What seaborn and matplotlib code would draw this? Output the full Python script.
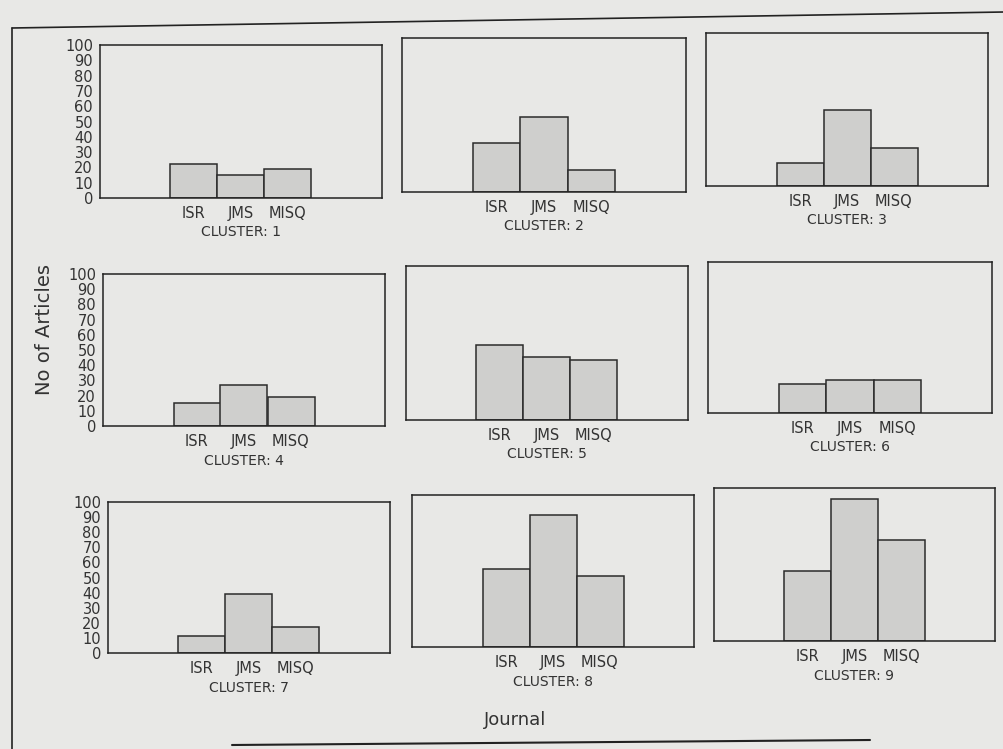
import matplotlib
matplotlib.use("Agg")
import matplotlib.pyplot as plt
import seaborn as sns
import pandas as pd
from matplotlib.lines import Line2D

journals = ["ISR", "JMS", "MISQ"]
slots = ["_left", "ISR", "JMS", "MISQ", "_right"]
slot_labels = ["", "ISR", "JMS", "MISQ", ""]
clusters = [1, 2, 3, 4, 5, 6, 7, 8, 9]
isr = [22, 32, 15, 15, 49, 19, 11, 51, 46]
jms = [15, 49, 50, 27, 41, 22, 39, 87, 93]
misq = [19, 14, 25, 19, 39, 22, 17, 47, 66]
y_ticks = [0, 10, 20, 30, 40, 50, 60, 70, 80, 90, 100]

rows = []
for i, c in enumerate(clusters):
    for j, v in zip(journals, (isr[i], jms[i], misq[i])):
        rows.append({"cluster": c, "journal": j, "articles": v})
df = pd.DataFrame(rows)

sns.set_theme(style="white")
plt.rcParams["font.family"] = ["DejaVu Sans"]

W, H = 1004, 749
bg = "#e8e8e6"
fig = plt.figure(figsize=(W / 100, H / 100), dpi=100, facecolor=bg)

# axes boxes in pixels: (left, top, right, bottom)
boxes = [
    (100, 45, 382, 198), (402, 38, 686, 192), (706, 33, 988, 186),
    (103, 274, 385, 426), (406, 266, 688, 420), (708, 262, 992, 413),
    (108, 502, 390, 653), (412, 495, 694, 647), (714, 488, 995, 641),
]

for k, c in enumerate(clusters):
    l, t, r, b = boxes[k]
    ax = fig.add_axes([l / W, 1 - b / H, (r - l) / W, (b - t) / H])
    ax.set_facecolor(bg)
    sub = df[df["cluster"] == c]
    sns.barplot(data=sub, x="journal", y="articles", order=slots,
                color="#cfcfcd", edgecolor="#2b2b2b", linewidth=1.1,
                width=1.0, saturation=1, ax=ax, errorbar=None)
    ax.set_xlim(-1, 5)
    ax.set_ylim(0, 100)
    ax.set_xticks(range(len(slots)))
    ax.set_xticklabels(slot_labels, fontsize=10.5, color="#333333")
    ax.tick_params(axis="x", direction="in", length=3, width=0.8,
                   color="#444444", pad=6)
    ax.set_yticks(y_ticks)
    ax.tick_params(axis="y", direction="out", length=3, width=0.8,
                   color="#555555", pad=2, labelsize=10.5, labelcolor="#333333")
    if k % 3 != 0:
        ax.set_yticklabels([])
        ax.tick_params(axis="y", direction="inout", length=4)
    ax.set_xlabel(f"CLUSTER: {c}", fontsize=10, color="#333333", labelpad=3)
    ax.set_ylabel("")
    for s in ax.spines.values():
        s.set_color("#222222")
        s.set_linewidth(1.1)
        s.set_visible(True)

fig.text(45 / W, 1 - 330 / H, "No of Articles", rotation=90, ha="center",
         va="center", fontsize=14, color="#333333")
fig.text(515 / W, 1 - 720 / H, "Journal", ha="center", va="center",
         fontsize=13, color="#333333")

# scanned page frame
fig.add_artist(Line2D([12 / W, 12 / W], [1 - 28 / H, 0], color="#222222", lw=1.2))
fig.add_artist(Line2D([12 / W, 1.0], [1 - 28 / H, 1 - 12 / H], color="#222222", lw=1.2))
fig.add_artist(Line2D([232 / W, 870 / W], [1 - 745 / H, 1 - 740 / H], color="#222222", lw=1.5))

fig.savefig("out.png", dpi=100, facecolor=bg)
